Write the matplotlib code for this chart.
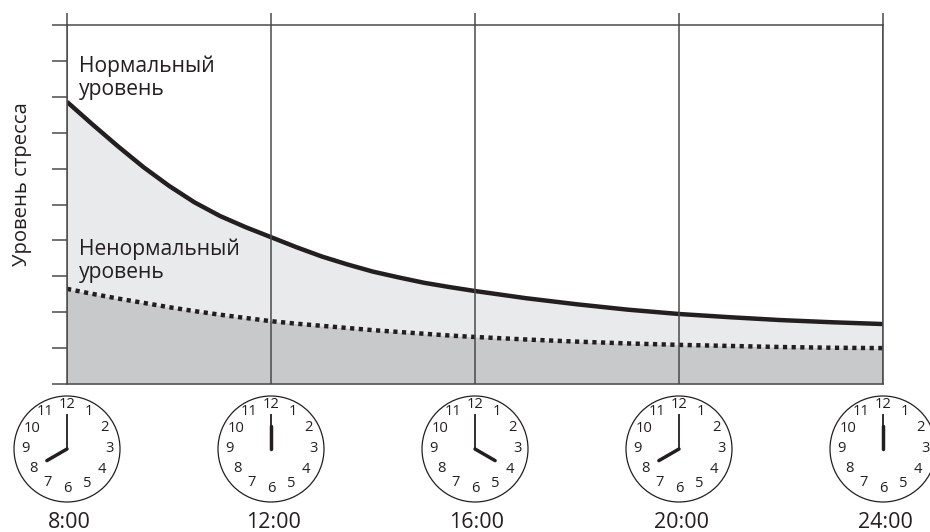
import numpy as np
import matplotlib as mpl
mpl.use("Agg")
from matplotlib import pyplot as plt

plt.rcParams["font.family"] = ["Open Sans", "DejaVu Sans"]

W, H = 930, 532

hours = [8, 8.5, 9, 9.5, 10, 10.5, 11, 11.5, 12, 12.5, 13, 13.5, 14, 14.5, 15, 15.5, 16,
         17, 18, 19, 20, 21, 22, 23, 24]
normal = [7.86, 7.23, 6.62, 6.04, 5.52, 5.06, 4.68, 4.37, 4.09, 3.81, 3.55, 3.33, 3.13, 2.97, 2.82, 2.7, 2.59,
          2.39, 2.22, 2.07, 1.95, 1.86, 1.78, 1.72, 1.67]
abnormal = [2.65, 2.51, 2.38, 2.26, 2.14, 2.03, 1.93, 1.84, 1.75, 1.68, 1.62, 1.56, 1.5, 1.45, 1.4, 1.35, 1.31,
            1.24, 1.18, 1.13, 1.09, 1.06, 1.03, 1.01, 1.0]

tick_hours = [8, 12, 16, 20, 24]
time_labels = ["8:00", "12:00", "16:00", "20:00", "24:00"]
clock_hours = [8, 12, 4, 8, 12]
clock_numbers = list(range(1, 13))
level_ticks = list(range(11))

LINE = "#4a4a4c"
INK = "#231f20"

# distance of each clock number from the centre, as a share of the face radius
number_radius = [0.81, 0.81, 0.80, 0.76, 0.76, 0.74, 0.73, 0.74, 0.79, 0.77, 0.81, 0.84]


def draw_clock(center_px, hour):
    """One clock face centred under its hour line."""
    size = 108
    left = (center_px - size / 2) / W
    bottom = (H - 449 - size / 2) / H
    cax = fig.add_axes([left, bottom, size / W, size / H])
    cax.set_xlim(-1, 1)
    cax.set_ylim(-1, 1)
    cax.axis("off")
    face = 53 / 54
    cax.add_patch(plt.Circle((0, 0), face, fill=False, ec=INK, lw=0.9))
    for n, r in zip(clock_numbers, number_radius):
        a = np.radians(90 - n * 30)
        cax.text(r * face * np.cos(a), r * face * np.sin(a), str(n), ha="center", va="center",
                 fontsize=10.6, color=INK)
    cax.plot([0, 0], [0, 0.64], color=INK, lw=1.3, solid_capstyle="butt")
    a = np.radians(90 - hour * 30)
    cax.plot([0, 0.43 * np.cos(a)], [0, 0.43 * np.sin(a)], color=INK, lw=2.5,
             solid_capstyle="round")


fig = plt.figure(figsize=(W / 100, H / 100), dpi=100)
ax = fig.add_axes([67 / W, (H - 384) / H, (883 - 67) / W, (384 - 25) / H])
ax.set_xlim(8, 24)
ax.set_ylim(0, 10)

ax.fill_between(hours, abnormal, normal, color="#e9eaec", lw=0)
ax.fill_between(hours, 0, abnormal, color="#c8c9cb", lw=0)
ax.grid(axis="x", color=LINE, lw=1.1)
ax.set_axisbelow(False)
ax.plot(hours, normal, color=INK, lw=3.2, solid_capstyle="butt")
ax.plot(hours, abnormal, color=INK, lw=3.2, dashes=(0.95, 1.0), dash_capstyle="butt")

for s in ax.spines.values():
    s.set_color(LINE)
    s.set_linewidth(1.1)

ax.set_yticks(level_ticks)
ax.set_yticklabels([])
ax.tick_params(axis="y", length=11, width=1.1, color=LINE, pad=0)
ax.set_xticks(tick_hours)
ax.set_xticklabels([])
ax.tick_params(axis="x", bottom=False, top=True, length=9, width=1.1, color=LINE)

ax.text(8.235, 8.05, "Нормальный\nуровень", fontsize=15.2, color=INK, ha="left", va="baseline",
        linespacing=1.13)
ax.text(8.235, 2.95, "Ненормальный\nуровень", fontsize=15.2, color=INK, ha="left", va="baseline",
        linespacing=1.13)
fig.text(22 / W, 1 - 184 / H, "Уровень стресса", rotation=90, fontsize=14.6, color=INK,
         ha="center", va="center")

for hour, clock, label in zip(tick_hours, clock_hours, time_labels):
    cx = ax.transData.transform((hour, 0))[0]
    draw_clock(cx, clock)
    fig.text((cx + 2) / W, 1 - 522 / H, label, fontsize=15.5, color=INK, ha="center", va="center")

fig.savefig("out.png", dpi=100)
plt.close()
